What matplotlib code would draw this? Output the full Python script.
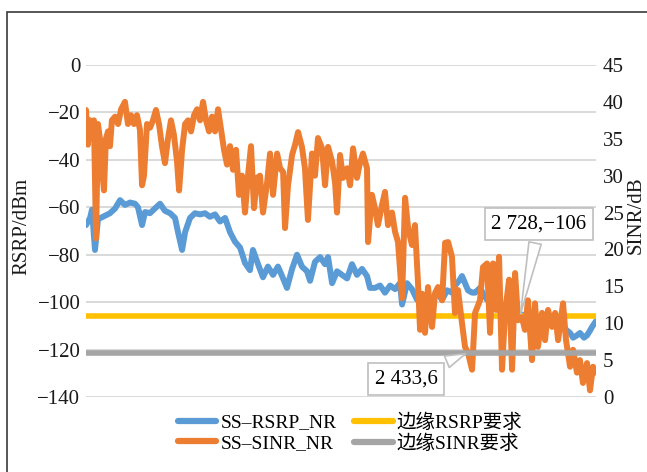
import matplotlib
matplotlib.use("Agg")
from matplotlib import pyplot as plt
from matplotlib.patches import Rectangle

plt.rcParams['font.family'] = ['Liberation Serif', 'Noto Sans CJK SC']

# sample numbers and SS-RSRP (dBm)
rsrp_n = [266, 289, 300, 317, 334, 362, 402, 431, 459, 487, 516, 544, 561, 584, 601, 629,
          657, 686, 714, 743, 771, 788, 811, 828, 856, 884, 913, 941, 969, 998, 1026, 1055,
          1083, 1111, 1140, 1168, 1196, 1213, 1242, 1270, 1298, 1327, 1355, 1384, 1406, 1435,
          1463, 1491, 1520, 1537, 1565, 1594, 1622, 1639, 1662, 1690, 1718, 1747, 1775, 1803,
          1832, 1860, 1877, 1905, 1934, 1962, 1991, 2019, 2047, 2059, 2087, 2115, 2144, 2161,
          2200, 2229, 2257, 2286, 2314, 2342, 2359, 2382, 2399, 2416, 2433, 2456, 2473, 2501,
          2524, 2541, 2575, 2615, 2649, 2688, 2728, 2768, 2802, 2830, 2859, 2881, 2910, 2938,
          2966, 2995, 3012, 3029, 3051, 3068, 3091, 3108, 3125, 3136, 3159]
rsrp = [-67.5, -64.5, -61, -78, -65, -64, -62.5, -60.5, -57, -59, -58, -58.5, -60, -67.5, -62, -62.5,
        -60.5, -58.5, -61.5, -62.5, -64.5, -70.5, -78, -70.5, -64.5, -62.5, -63, -62.5, -64, -63, -66, -64.5,
        -70.5, -74.5, -77, -83.5, -86.5, -78, -84, -89.5, -85, -88.5, -85, -90, -94, -86,
        -80, -85, -87, -91, -83, -81, -84, -81, -92, -87, -88.5, -90, -84, -88.5,
        -86, -89, -94, -94, -93, -96, -93, -94.5, -92, -101, -92, -94.5, -99, -98.5,
        -97, -99, -96, -99, -95, -96, -93, -91, -89, -92, -95, -96, -96, -94,
        -97, -99, -100, -102, -103, -105, -105, -106, -107, -109, -107, -107, -108, -109,
        -110, -112, -113, -115, -114, -113, -115, -114, -112, -110.5, -108]

# sample numbers and SS-SINR (dB)
sinr_n = [266, 277, 289, 300, 311, 323, 334, 345, 357, 368, 379, 391, 402, 413, 431, 448,
          465, 487, 504, 521, 538, 555, 572, 584, 595, 612, 629, 646, 663, 680, 697, 714,
          731, 748, 765, 782, 794, 811, 828, 845, 862, 879, 896, 913, 930, 947, 964, 981,
          998, 1015, 1032, 1049, 1066, 1083, 1100, 1117, 1134, 1151, 1168, 1185, 1202, 1219,
          1236, 1253, 1270, 1293, 1310, 1327, 1350, 1367, 1384, 1395, 1412, 1435, 1452, 1469,
          1491, 1508, 1525, 1548, 1565, 1582, 1605, 1622, 1639, 1662, 1679, 1690, 1707, 1724,
          1747, 1764, 1781, 1803, 1820, 1837, 1860, 1866, 1888, 1905, 1922, 1945, 1962, 1979,
          2002, 2019, 2036, 2059, 2076, 2093, 2115, 2132, 2149, 2161, 2172, 2189, 2206, 2229,
          2246, 2263, 2286, 2303, 2320, 2342, 2359, 2376, 2399, 2416, 2433, 2456, 2473, 2501,
          2518, 2541, 2558, 2575, 2592, 2609, 2626, 2643, 2666, 2683, 2700, 2717, 2739, 2756,
          2773, 2796, 2813, 2830, 2853, 2870, 2887, 2910, 2927, 2944, 2972, 2989, 3012, 3029,
          3051, 3068, 3085, 3108, 3125, 3142, 3159]
sinr = [38.9, 34.2, 37.5, 35.5, 37.5, 21.5, 37, 35, 30.8, 28, 35, 36, 34, 37.5, 38, 37,
        39, 40, 37, 38.2, 37, 38.2, 36.2, 28.7, 30, 37, 36.5, 37.5, 38.9, 37, 34, 31.7,
        35, 37.5, 35.5, 32, 28, 33.5, 37, 37.5, 36, 38.2, 39, 37.5, 40, 37.5, 36, 38,
        36, 39, 36.2, 33.5, 31.5, 34, 30.8, 33.5, 27.4, 30, 25, 30, 34, 25.6,
        29.7, 30, 25, 29, 33, 27.4, 33, 31, 30.5, 22.9, 28.7, 32.8, 34.2, 35.9,
        33.9, 31, 24, 33, 30, 35.1, 33.7, 28.7, 33.9, 31.9, 29, 25, 32.8, 29.7,
        31, 28.7, 33.7, 29.7, 31.7, 33, 31, 21, 27.4, 25.6, 23.3, 26, 27.8, 23.3,
        25, 22.4, 21, 13.4, 27, 22.9, 20.6, 23.3, 15.6, 9.1, 14, 8.7, 14.9, 9.5,
        14.1, 14.9, 13.1, 20.9, 21, 19, 11.4, 14.5, 10, 6.8, 6, 3.7, 11.4, 13.1,
        17.6, 18.1, 8.7, 18.1, 11.8, 19, 3.7, 11.4, 15.9, 3.7, 16.8, 10.4, 10.8, 9.1,
        13.1, 5, 12.7, 6.8, 11.4, 7.7, 11.8, 9.5, 11.4, 7.7, 12.7, 7.7, 4.1, 6.4,
        3.3, 5, 1.9, 4.6, 0.9, 4.1, 3.3]

rsrp_limit = -106
sinr_limit = 6
callouts = [(2728, -106), (2433, 6)]

labels = ['SS–RSRP_NR', 'SS–SINR_NR', '边缘RSRP要求', '边缘SINR要求']
colors = {'rsrp': '#5b9bd5', 'sinr': '#ed7d31', 'rsrp_lim': '#ffc000', 'sinr_lim': '#a5a5a5'}

W, H = 647, 472
fig = plt.figure(figsize=(W / 100, H / 100), dpi=100)
fig.patches.append(Rectangle((7 / W, -0.1), 1.2, 1.1 - 12 / H, transform=fig.transFigure,
                             fill=False, ec='#3a3a3a', lw=1.2))

ax = fig.add_axes([86 / W, 1 - 397 / H, 510 / W, 332 / H])
ax2 = ax.twinx()

x0, x1 = rsrp_n[0], rsrp_n[-1]
l1, = ax.plot(rsrp_n, rsrp, color=colors['rsrp'], lw=4.3, solid_joinstyle='round',
              solid_capstyle='round')
l3, = ax.plot([x0, x1], [rsrp_limit, rsrp_limit], color=colors['rsrp_lim'], lw=4)
l2, = ax2.plot(sinr_n, sinr, color=colors['sinr'], lw=4.3, solid_joinstyle='round',
               solid_capstyle='round')
l4, = ax2.plot([x0, x1], [sinr_limit, sinr_limit], color=colors['sinr_lim'], lw=4)

ax.set_xlim(x0, x1)
ax.set_ylim(-140, 0)
ax2.set_ylim(0, 45)
ax.set_yticks(range(-140, 1, 20))
ax2.set_yticks(range(0, 46, 5))
ax.set_xticks([])
ax.grid(axis='y', color='#d9d9d9', lw=1.4)
ax.set_axisbelow(True)
for a in (ax, ax2):
    for s in a.spines.values():
        s.set_visible(False)
    a.tick_params(axis='y', length=0, labelsize=15, colors='#1a1a1a')
ax.tick_params(axis='y', pad=4)
ax2.tick_params(axis='y', pad=5)

fig.text(22 / W, 1 - 226 / H, 'RSRP/dBm', rotation=90, ha='center', va='center',
         fontsize=15, color='#1a1a1a')
fig.text(636 / W, 1 - 215 / H, 'SINR/dB', rotation=90, ha='center', va='center',
         fontsize=15, color='#1a1a1a')

box = dict(boxstyle='square,pad=0.3', fc='white', ec='#bfbfbf', lw=1.2)
wedge = dict(arrowstyle='wedge,tail_width=0.6,shrink_factor=0.5', fc='white', ec='#bfbfbf', lw=1.2)
ax2.annotate('2 728,−106', xy=callouts[0], xycoords=ax.transData,
             xytext=(539, H - 224), textcoords='figure pixels', ha='center', va='center',
             fontsize=15, bbox=box, arrowprops=wedge, annotation_clip=False, zorder=5)
ax2.annotate('2 433,6', xy=callouts[1], xycoords='data',
             xytext=(406, H - 379), textcoords='figure pixels', ha='center', va='center',
             fontsize=15, bbox=box, arrowprops=wedge, annotation_clip=False, zorder=5)

fig.legend([l1, l2, l3, l4], labels, ncol=2, loc='center', bbox_to_anchor=(350 / W, 1 - 433 / H),
           frameon=False, fontsize=14, handlelength=2.0, handletextpad=0.2,
           columnspacing=0.9, labelspacing=0.15, borderpad=0)
for h in fig.legends[0].get_lines():
    h.set_linewidth(4.5)
    h.set_solid_capstyle('round')

fig.savefig('out.png', dpi=100)
